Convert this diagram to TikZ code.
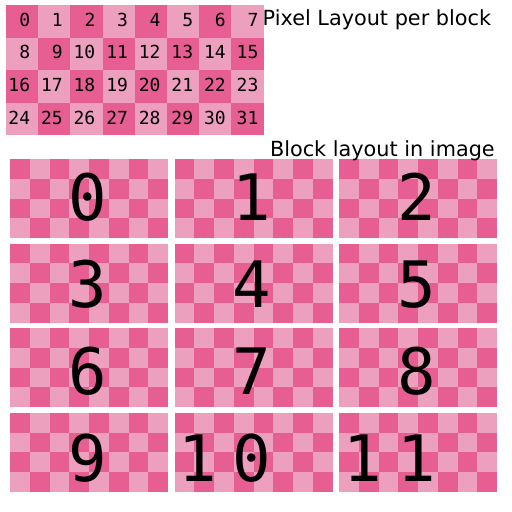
\documentclass[tikz,border=0pt]{standalone}
\usepackage{fontspec}
\setmainfont{DejaVu Sans}
\setmonofont{DejaVu Sans Mono}
\definecolor{darkpink}{RGB}{231,94,146}
\definecolor{lightpink}{RGB}{237,159,190}
\tikzset{pixnum/.style={anchor=base, inner sep=0pt, font=\fontsize{18}{18}\selectfont\ttfamily},
  blknum/.style={anchor=base east, inner sep=0pt, font=\fontsize{64}{64}\selectfont\ttfamily},
  caption/.style={anchor=base west, inner sep=0pt, font=\fontsize{20.8}{20.8}\selectfont}}

\begin{document}
\begin{tikzpicture}[x=1pt, y=-1pt]
    \useasboundingbox[fill=white] (0,0) rectangle (512,512);
    \fill[lightpink] (6,5) rectangle (263.6,135);
    \foreach \i in {0,...,7} \foreach \j in {0,...,3} {
        \ifodd\numexpr\i+\j\relax\else
            \fill[darkpink] (6+32.2*\i,5+32.5*\j) rectangle +(32.2,32.5);
        \fi}
    \foreach \c in {0,1,2} \foreach \r in {0,...,3} {
        \fill[lightpink] (10+164.5*\c,159+84.6*\r) rectangle +(158,79);
        \foreach \i in {0,...,7} \foreach \j in {0,...,3} {
            \ifodd\numexpr\i+\j\relax\else
                \fill[darkpink] (10+164.5*\c+19.75*\i,159+84.6*\r+19.75*\j) rectangle +(19.75,19.75);
            \fi}}
    \foreach \n in {0,...,31} {
        \pgfmathtruncatemacro\col{mod(\n,8)}
        \pgfmathtruncatemacro\row{div(\n,8)}
        \node[pixnum] (pix-\n) at (19.3+32.6*\col,26+32.7*\row) {\ifnum\n<10 \phantom{0}\fi\n};
    }
    \foreach \n in {0,...,11} {
        \pgfmathtruncatemacro\col{mod(\n,3)}
        \pgfmathtruncatemacro\row{div(\n,3)}
        \node[blknum] (blk-\n) at (87.5+164.7*\col+19.25,220+87.2*\row) {\ifnum\n<10 \n\else 1\kern15.8pt\the\numexpr\n-10\relax\fi};
    }
    \node[caption] (pixtitle) at (262.5,25) {Pixel Layout per block};
    \node[caption] (blktitle) at (269.8,156) {Block layout in image};
\end{tikzpicture}
\end{document}
